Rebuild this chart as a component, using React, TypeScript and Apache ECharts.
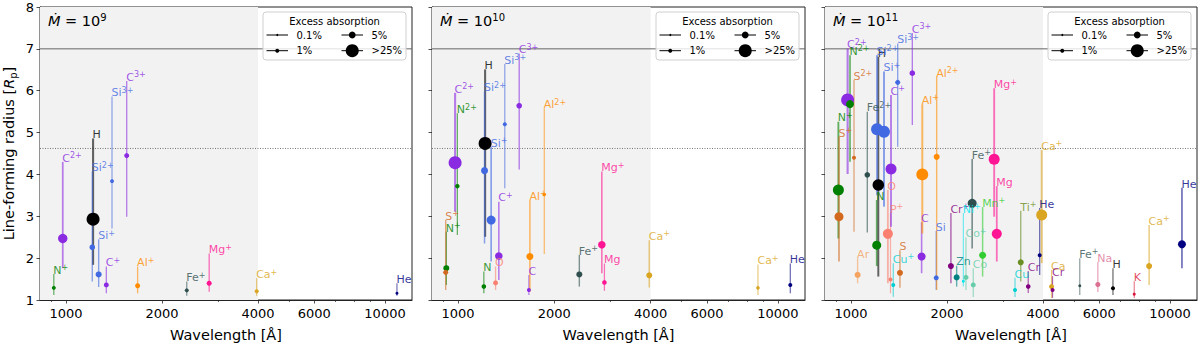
import React, { useEffect, useRef } from "react";
import * as echarts from "echarts";

const FONT = "DejaVu Sans";

// ---- axes (wavelength in Å, radius in Rp) ----
const X_MIN_WL = 829;
const X_MAX_WL = 12150;
const Y_MIN = 1;
const Y_MAX = 8;
const SHADE_LIMIT_WL = 4000;
const REF_SOLID_Y = 7;
const REF_DOTTED_Y = 4.62;
const MAJOR_TICKS_WL = [1000, 2000, 4000, 6000, 10000];
const MINOR_TICKS_WL = [900, 3000, 5000, 7000, 8000, 9000];

const PANEL_EXPONENTS = ["9", "10", "11"];

const LEGEND_LABELS = ["0.1%", "1%", "5%", ">25%"];
const LEGEND_ABSORPTION = [0.1, 1, 5, 25];

// ---- panel 1: Mdot = 1e9 ----
const p1Species = ["N+", "C2+", "H", "Si2+", "Si+", "C+", "Si3+", "C3+", "Al+", "Fe+", "Mg+", "Ca+", "He"];
const p1Wavelength = [916, 977, 1216, 1209, 1266, 1338, 1394, 1550, 1677, 2391, 2811, 3960, 10900];
const p1Low = [1.12, 1.76, 1.84, 1.44, 1.31, 1.16, 2.71, 2.99, 1.16, 1.10, 1.20, 1.10, 1.10];
const p1High = [1.62, 4.30, 4.86, 4.07, 2.45, 1.80, 5.86, 6.23, 1.80, 1.44, 2.11, 1.52, 1.40];
const p1Value = [1.29, 2.47, 2.93, 2.26, 1.61, 1.36, 3.84, 4.45, 1.34, 1.23, 1.40, 1.21, 1.16];
const p1Absorption = [1, 9.8, 30, 2.5, 3.2, 1.8, 1, 1.8, 1.8, 1, 1.8, 1, 0.3];

// ---- panel 2: Mdot = 1e10 ----
const p2Species = ["N+", "S+", "C2+", "N2+", "H", "Si2+", "N", "Si+", "O", "C+", "Si3+", "C3+", "C", "Al+", "Al2+", "Fe+", "Mg+", "Mg", "Ca+", "Ca+", "He"];
const p2Wavelength = [919, 915, 979, 995, 1215, 1210, 1204, 1269, 1310, 1341, 1400, 1553, 1665, 1677, 1860, 2394, 2815, 2868, 3960, 8660, 10930];
const p2Low = [1.36, 1.24, 3.11, 2.55, 2.51, 2.35, 1.16, 1.92, 1.24, 1.48, 3.67, 4.12, 1.12, 1.20, 2.10, 1.32, 1.64, 1.22, 1.30, 1.12, 1.16];
const p2High = [2.63, 2.91, 5.95, 5.46, 6.51, 5.98, 1.68, 4.66, 1.80, 3.35, 6.64, 6.89, 1.60, 3.39, 5.58, 2.08, 4.07, 1.87, 2.43, 1.85, 1.87];
const p2Value = [1.76, 1.66, 4.28, 3.72, 4.74, 4.09, 1.32, 2.91, 1.41, 2.05, 5.20, 5.64, 1.24, 2.04, 3.52, 1.61, 2.32, 1.42, 1.59, 1.29, 1.36];
const p2Absorption = [3.2, 1.8, 25, 1.3, 30, 5.3, 1.4, 8.8, 1.8, 6.1, 1, 2.5, 1, 5.3, 0.6, 3.2, 6.1, 1.4, 3.2, 0.6, 1];

// ---- panel 3: Mdot = 1e11 ----
const p3Species = ["N+", "S+", "C2+", "N2+", "S2+", "Ar", "Fe2+", "N", "H", "Si2+", "Si+", "O", "P+", "C+", "Cu+", "Si3+", "S", "C3+", "C", "Al+", "Si", "Al2+", "Cr+", "Zn", "Ni+", "Co+", "Fe+", "Co", "Mn+", "Mg+", "Mg", "Cu", "Ti+", "Cr", "He", "Ca+", "Ca", "Cr", "Fe+", "Na", "H", "K", "Ca+", "He"];
const p3Wavelength = [913, 917, 976, 993, 1022, 1049, 1125, 1204, 1218, 1207, 1269, 1305, 1330, 1335, 1357, 1401, 1424, 1557, 1665, 1673, 1850, 1856, 2057, 2144, 2250, 2293, 2398, 2417, 2586, 2811, 2864, 3267, 3405, 3594, 3904, 3961, 4253, 4283, 5214, 5940, 6625, 7724, 8600, 10900];
const p3Low = [2.47, 1.92, 4.01, 4.30, 2.63, 1.40, 2.61, 1.81, 1.56, 3.50, 3.23, 1.40, 1.16, 2.75, 1.08, 4.66, 1.29, 5.18, 1.64, 2.59, 1.24, 1.24, 1.40, 1.32, 1.32, 1.24, 2.23, 1.07, 1.56, 2.99, 1.92, 1.07, 1.44, 1.17, 1.60, 1.88, 1.05, 1.05, 1.12, 1.19, 1.12, 1.05, 1.36, 1.76];
const p3High = [5.26, 4.90, 7.01, 6.85, 6.26, 2.00, 5.50, 3.39, 6.81, 6.85, 6.46, 3.63, 3.08, 5.90, 1.88, 7.13, 2.19, 7.38, 2.86, 5.68, 2.65, 6.33, 3.08, 1.82, 3.08, 2.50, 4.37, 1.76, 3.22, 6.06, 3.72, 1.53, 3.13, 1.69, 3.20, 4.58, 1.72, 1.57, 2.00, 1.91, 1.76, 1.45, 2.79, 3.68];
const p3Value = [3.63, 2.99, 5.78, 5.68, 4.40, 1.60, 3.99, 2.31, 3.75, 5.08, 5.02, 2.58, 1.49, 4.13, 1.36, 6.20, 1.65, 6.42, 2.04, 4.00, 1.53, 4.42, 1.81, 1.54, 1.45, 1.54, 3.31, 1.36, 2.07, 4.36, 2.58, 1.24, 1.90, 1.32, 2.07, 3.03, 1.32, 1.24, 1.34, 1.37, 1.28, 1.14, 1.81, 2.33];
const p3Absorption = [14.8, 8.8, 25, 6.8, 1, 3.2, 2.5, 8.8, 17, 19, 19, 11.5, 1, 14.8, 1, 1.8, 3.2, 2.5, 6.8, 19, 1.8, 3.2, 3.2, 3.2, 0.3, 1.8, 8.8, 1.8, 5.3, 14.8, 11.5, 1, 3.2, 1.4, 1, 14.8, 1.8, 1, 0.3, 1.8, 1, 0.3, 3.2, 6.8];

const PANELS = [
  { species: p1Species, wl: p1Wavelength, low: p1Low, high: p1High, value: p1Value, absorption: p1Absorption },
  { species: p2Species, wl: p2Wavelength, low: p2Low, high: p2High, value: p2Value, absorption: p2Absorption },
  { species: p3Species, wl: p3Wavelength, low: p3Low, high: p3High, value: p3Value, absorption: p3Absorption },
];

// ---- styles ----
const ELEMENT_COLORS: Record<string, string> = {
  H: "#000000", He: "#000080", C: "#8a2be2", Si: "#4169e1", N: "#008000", S: "#d2691e",
  O: "#fa8072", P: "#fa8072", Mg: "#ff1493", Al: "#ff8c00", Fe: "#2f4f4f", Ca: "#daa520",
  Ar: "#f4a460", Cu: "#00ced1", Zn: "#008080", Ni: "#00e5ee", Co: "#66cdaa", Mn: "#32cd32",
  Ti: "#6b8e23", Cr: "#800080", Na: "#db7093", K: "#dc143c",
};

const GRID_LEFTS = [40, 432, 825];
const GRID_WIDTHS = [372, 373, 372];
const GRID_TOP = 7;
const GRID_HEIGHT = 293;

const lg = (v: number) => Math.log10(v);
const XMIN = lg(X_MIN_WL);
const XMAX = lg(X_MAX_WL);

function splitSpecies(sp: string): [string, string] {
  const m = sp.match(/^([A-Z][a-z]?)(.*)$/);
  return m ? [m[1], m[2]] : [sp, ""];
}
function colorOf(sp: string) {
  return ELEMENT_COLORS[splitSpecies(sp)[0]] || "#000";
}
function labelText(sp: string) {
  const [el, ch] = splitSpecies(sp);
  return ch ? `${el}{sup|${ch}}` : el;
}
// marker radius (px) from excess absorption (%), interpolated in log space
const R_ANCHOR_L = [-1, 0, Math.log10(5), Math.log10(25)];
const R_ANCHOR_R = [1.0, 2.0, 3.4, 6.5];
function radiusFor(abs: number) {
  const L = Math.log10(Math.min(Math.max(abs, 0.1), 25));
  for (let i = 0; i < R_ANCHOR_L.length - 1; i++) {
    if (L <= R_ANCHOR_L[i + 1]) {
      const t = (L - R_ANCHOR_L[i]) / (R_ANCHOR_L[i + 1] - R_ANCHOR_L[i]);
      return R_ANCHOR_R[i] + t * (R_ANCHOR_R[i + 1] - R_ANCHOR_R[i]);
    }
  }
  return R_ANCHOR_R[R_ANCHOR_R.length - 1];
}

function buildOption() {
  const grids: any[] = [];
  const xAxes: any[] = [];
  const yAxes: any[] = [];
  const series: any[] = [];
  const graphics: any[] = [];

  PANELS.forEach((panel, p) => {
    grids.push({
      left: GRID_LEFTS[p], top: GRID_TOP, width: GRID_WIDTHS[p], height: GRID_HEIGHT,
      show: true, borderColor: "#222", borderWidth: 1, backgroundColor: "transparent",
      containLabel: false, outerBoundsMode: "none",
    });
    xAxes.push({
      type: "value", gridIndex: p, min: XMIN, max: XMAX, position: "bottom",
      name: "Wavelength [Å]", nameLocation: "middle", nameGap: 27, nameMoveOverlap: false,
      nameTextStyle: { fontSize: 14.5, fontFamily: FONT, color: "#000" },
      axisLine: { show: true, onZero: false, lineStyle: { color: "#222", width: 1 } },
      splitLine: { show: false },
      axisTick: { show: true, length: 3.5, inside: false, customValues: MAJOR_TICKS_WL.map(lg), lineStyle: { color: "#222", width: 0.8 } },
      axisLabel: {
        show: true, customValues: MAJOR_TICKS_WL.map(lg), margin: 7, fontSize: 13, fontFamily: FONT, color: "#000",
        formatter: (v: number) => String(Math.round(Math.pow(10, v))),
      },
    });
    xAxes.push({
      type: "value", gridIndex: p, min: XMIN, max: XMAX, position: "bottom",
      axisLine: { show: false, onZero: false }, splitLine: { show: false },
      axisLabel: { show: false },
      axisTick: { show: true, length: 2, inside: false, customValues: MINOR_TICKS_WL.map(lg), lineStyle: { color: "#222", width: 0.7 } },
    });
    yAxes.push({
      type: "value", gridIndex: p, min: Y_MIN, max: Y_MAX, interval: 1,
      name: p === 0 ? "Line-forming radius [{it|R}{sub|p}]" : "", nameLocation: "middle", nameGap: 22, nameRotate: 90,
      nameMoveOverlap: false,
      nameTextStyle: {
        fontSize: 14.5, fontFamily: FONT, color: "#000", lineHeight: 18,
        rich: {
          it: { fontSize: 14.5, fontStyle: "italic", fontFamily: FONT, lineHeight: 18 },
          sub: { fontSize: 10, fontFamily: FONT, lineHeight: 10, verticalAlign: "bottom" },
        },
      },
      axisLine: { show: true, onZero: false, lineStyle: { color: "#222", width: 1 } },
      splitLine: { show: false },
      axisTick: { show: true, length: 3.5, inside: false, lineStyle: { color: "#222", width: 0.8 } },
      axisLabel: { show: p === 0, margin: 6, fontSize: 13, fontFamily: FONT, color: "#000" },
    });

    const xi = 2 * p;
    // background: shaded region and reference lines
    series.push({
      type: "custom", xAxisIndex: xi, yAxisIndex: p, z: 1, silent: true,
      data: [[XMIN, Y_MIN]],
      renderItem: (_params: any, api: any) => {
        const a = api.coord([XMIN, Y_MAX]);
        const b = api.coord([lg(SHADE_LIMIT_WL), Y_MIN]);
        const s0 = api.coord([XMIN, REF_SOLID_Y]);
        const s1 = api.coord([XMAX, REF_SOLID_Y]);
        const d0 = api.coord([XMIN, REF_DOTTED_Y]);
        const d1 = api.coord([XMAX, REF_DOTTED_Y]);
        return {
          type: "group",
          children: [
            { type: "rect", shape: { x: a[0], y: a[1], width: b[0] - a[0], height: b[1] - a[1] }, style: { fill: "#f2f2f2" } },
            { type: "line", shape: { x1: s0[0], y1: s0[1], x2: s1[0], y2: s1[1] }, style: { stroke: "#666", lineWidth: 1 } },
            { type: "line", shape: { x1: d0[0], y1: d0[1], x2: d1[0], y2: d1[1] }, style: { stroke: "#555", lineWidth: 0.8, lineDash: [1, 1.5] } },
          ],
        };
      },
    });
    // vertical range lines
    series.push({
      type: "custom", xAxisIndex: xi, yAxisIndex: p, z: 2, silent: true,
      data: panel.species.map((_s, i) => [lg(panel.wl[i]), panel.low[i], panel.high[i], panel.absorption[i]]),
      renderItem: (params: any, api: any) => {
        const i = params.dataIndex;
        const x = api.value(0);
        const a = api.coord([x, api.value(1)]);
        const b = api.coord([x, api.value(2)]);
        const r = radiusFor(api.value(3));
        return {
          type: "line",
          shape: { x1: a[0], y1: a[1], x2: b[0], y2: b[1] },
          style: { stroke: colorOf(panel.species[i]), lineWidth: 0.8 + 0.2 * r, opacity: 0.6 },
        };
      },
    });
    // markers
    series.push({
      type: "scatter", xAxisIndex: xi, yAxisIndex: p, z: 3, silent: true,
      data: panel.species.map((s, i) => ({
        value: [lg(panel.wl[i]), panel.value[i]],
        symbolSize: 2 * radiusFor(panel.absorption[i]),
        itemStyle: { color: colorOf(s), opacity: 1 },
      })),
      symbol: "circle",
    });
    // labels at top of each range
    series.push({
      type: "scatter", xAxisIndex: xi, yAxisIndex: p, z: 4, silent: true,
      symbol: "circle", symbolSize: 1,
      itemStyle: { color: "rgba(0,0,0,0)" },
      data: panel.species.map((s, i) => ({
        value: [lg(panel.wl[i]), panel.high[i]],
        label: { color: colorOf(s) },
      })),
      label: {
        show: true, position: [0, 3.3], align: "left", verticalAlign: "bottom",
        fontSize: 11, fontFamily: FONT, lineHeight: 13,
        formatter: (prm: any) => labelText(panel.species[prm.dataIndex]),
        rich: { sup: { fontSize: 8, fontFamily: FONT, lineHeight: 8, verticalAlign: "top" } },
      },
      labelLayout: { hideOverlap: false },
    });

    // title
    const gl = GRID_LEFTS[p];
    const gr = gl + GRID_WIDTHS[p];
    graphics.push({
      type: "text", x: gl + 8, y: 21, z: 50,
      style: {
        text: `{it|Ṁ}{n| = 10}{sup|${PANEL_EXPONENTS[p]}}`,
        fill: "#000", fontFamily: FONT, fontSize: 14.5,
        align: "left", verticalAlign: "middle", textAlign: "left", textVerticalAlign: "middle",
        rich: {
          it: { fontSize: 14.5, fontStyle: "italic", fontFamily: FONT, lineHeight: 18, fill: "#000" },
          n: { fontSize: 14.5, fontFamily: FONT, lineHeight: 18, fill: "#000" },
          sup: { fontSize: 10, fontFamily: FONT, lineHeight: 10, verticalAlign: "top", fill: "#000" },
        },
      },
    });
    // legend
    const L = gr - 149;
    const T = 12;
    graphics.push({
      type: "rect", z: 60, shape: { x: L, y: T, width: 143, height: 48, r: 3 },
      style: { fill: "rgba(255,255,255,0.8)", stroke: "#d0d0d0", lineWidth: 1 },
    });
    graphics.push({
      type: "text", z: 61, x: L + 71.5, y: T + 9,
      style: {
        text: "Excess absorption", fill: "#000", fontFamily: FONT, fontSize: 10,
        align: "center", verticalAlign: "middle", textAlign: "center", textVerticalAlign: "middle",
      },
    });
    LEGEND_LABELS.forEach((lab, k) => {
      const col = k < 2 ? 0 : 1;
      const row = k % 2;
      const hx = L + (col === 0 ? 3.5 : 78.5);
      const cy = T + (row === 0 ? 23 : 38.7);
      graphics.push({ type: "line", z: 61, shape: { x1: hx, y1: cy, x2: hx + 21.5, y2: cy }, style: { stroke: "#000", lineWidth: 1 } });
      graphics.push({ type: "circle", z: 62, shape: { cx: hx + 10.75, cy, r: radiusFor(LEGEND_ABSORPTION[k]) }, style: { fill: "#000" } });
      graphics.push({
        type: "text", z: 61, x: L + (col === 0 ? 33.5 : 108.5), y: cy,
        style: {
          text: lab, fill: "#000", fontFamily: FONT, fontSize: 10,
          align: "left", verticalAlign: "middle", textAlign: "left", textVerticalAlign: "middle",
        },
      });
    });
  });

  return {
    animation: false,
    backgroundColor: "#ffffff",
    textStyle: { fontFamily: FONT },
    grid: grids,
    xAxis: xAxes,
    yAxis: yAxes,
    series,
    graphic: graphics,
  };
}

export default function App() {
  const ref = useRef<HTMLDivElement>(null);
  useEffect(() => {
    if (!ref.current) return;
    const chart = echarts.init(ref.current, null, { renderer: "svg" });
    chart.setOption(buildOption() as any);
    return () => chart.dispose();
  }, []);
  return (
    <div
      ref={ref}
      style={{ position: "fixed", left: 0, top: 0, width: 1200, height: 346, background: "#fff" }}
    />
  );
}
